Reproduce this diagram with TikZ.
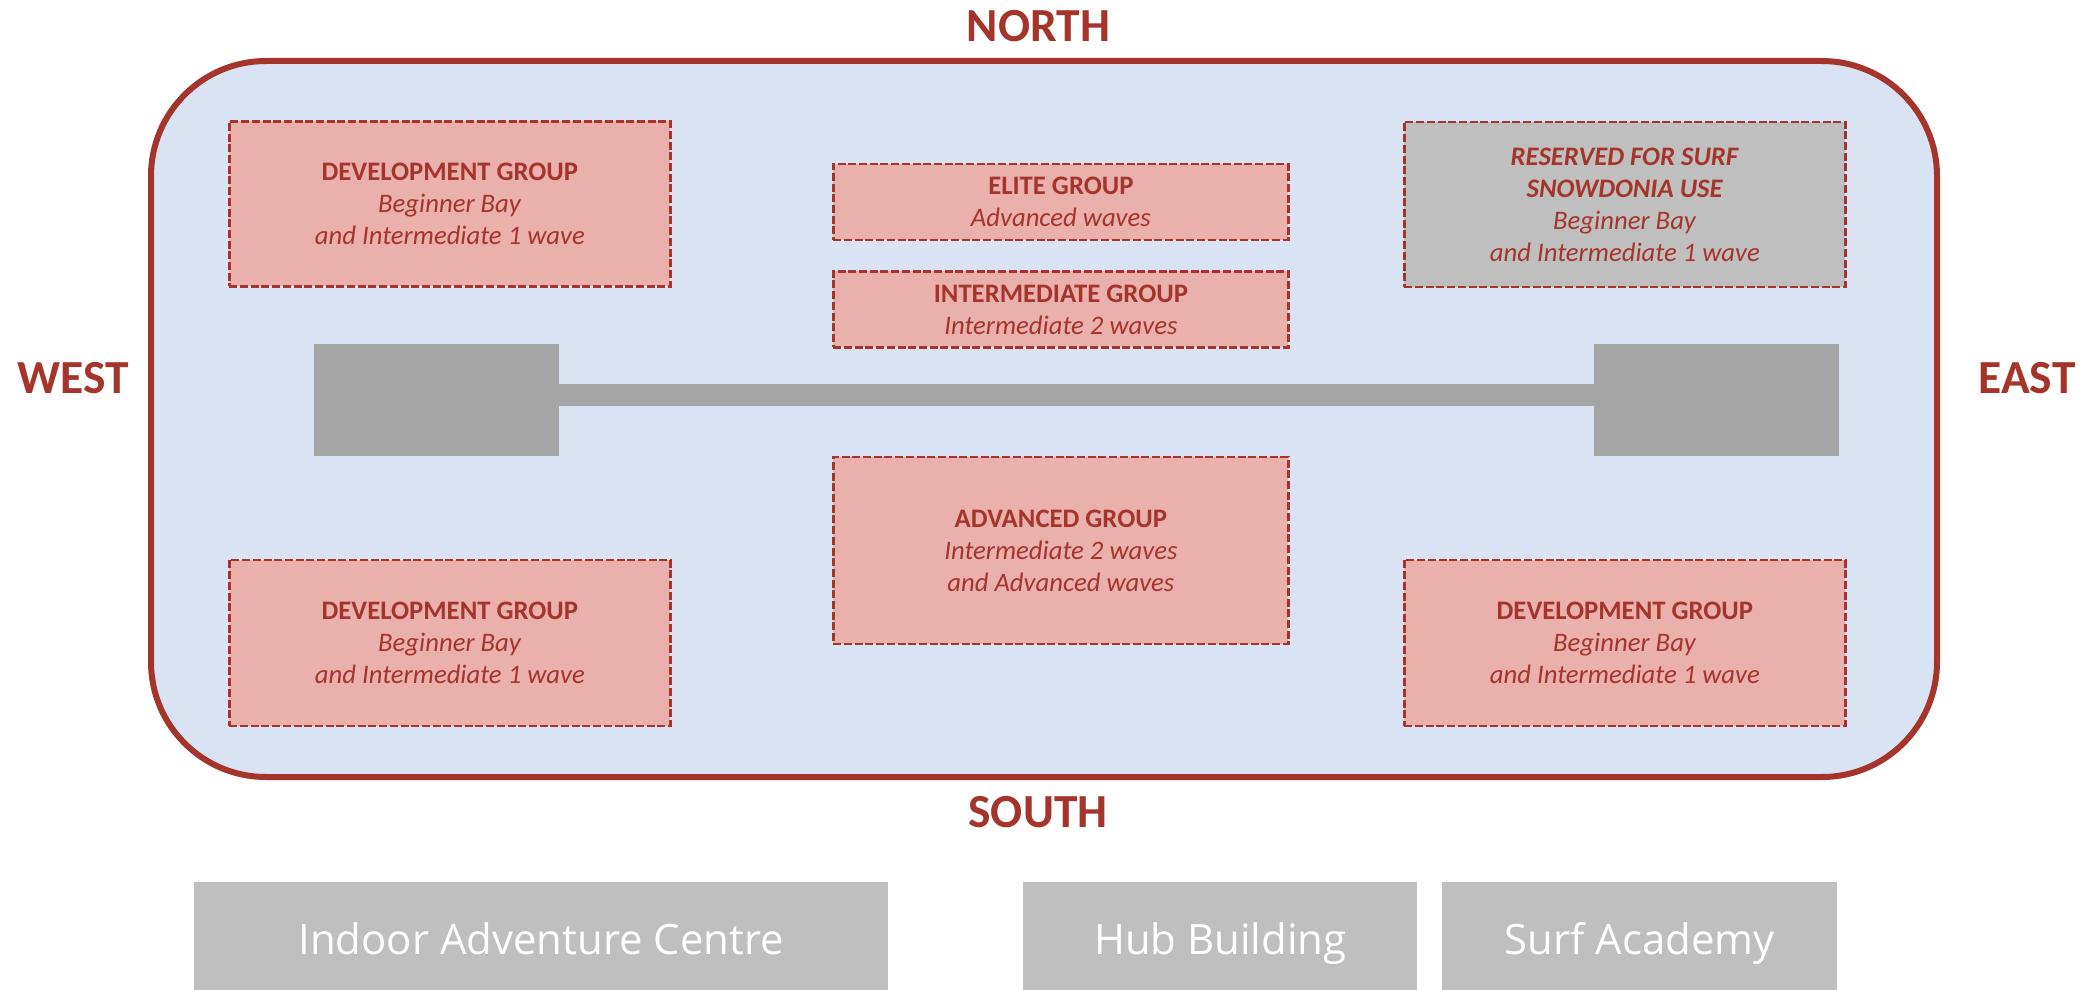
\documentclass[tikz,border=0pt]{standalone}
\usepackage{fontspec}
\setmainfont{Carlito}
\newfontfamily\bldgfont{Open Sans}
\definecolor{rustred}{HTML}{A5352B}
\definecolor{zonefill}{HTML}{EAB0AB}
\definecolor{sitefill}{HTML}{DAE3F3}
\definecolor{softgrey}{HTML}{BFBFBF}
\definecolor{darkgrey}{HTML}{A5A5A5}
\tikzset{
  zone/.style={draw=rustred,fill=zonefill,line width=2.7pt,dash pattern=on 8pt off 2.7pt,
    rectangle,inner sep=0pt,align=center,text=rustred,font=\fontsize{26.7}{32}\selectfont,
    execute at begin node=\rule{0pt}{21pt}},
  reserved/.style={zone,fill=softgrey},
  pier/.style={fill=darkgrey,rectangle,inner sep=0pt},
  compass/.style={text=rustred,inner sep=0pt,font=\fontsize{47.5}{50}\selectfont\bfseries},
  building/.style={fill=softgrey,rectangle,inner sep=0pt,text=white,text height=36pt,text depth=0pt,font=\fontsize{41.9}{46}\selectfont\bldgfont}
}
\newcommand{\hd}[1]{\textbf{#1}}
\newcommand{\sbt}[1]{\textit{#1}}
\begin{document}
\begin{tikzpicture}[x=1pt,y=-1pt]
\useasboundingbox (0,0) rectangle (2090,990);
\node[draw=rustred,fill=sitefill,line width=6pt,rectangle,rounded corners=115pt,
  minimum width=1786pt,minimum height=716pt,anchor=north west,outer sep=0pt,inner sep=0pt] (site) at (151,61) {};
\node[compass] (north) at (1038.5,26.5) {NORTH};
\node[compass] (south) at (1038,812) {SOUTH};
\node[compass] (west) at (73.5,378.5) {WEST};
\node[compass] (east) at (2027,378.5) {EAST};
\node[pier,minimum width=245.5pt,minimum height=112pt,anchor=north west] (pierW) at (313.5,344) {};
\node[pier,minimum width=245pt,minimum height=112pt,anchor=north west] (pierE) at (1594,344) {};
\draw[darkgrey,line width=21.5pt] ([yshift=5pt]pierW.east) -- ([yshift=5pt]pierE.west);
\node[zone,minimum width=441pt,minimum height=165pt,anchor=north west] (devNW) at (228,120)
  {\hd{DEVELOPMENT GROUP}\\\sbt{Beginner Bay}\\\sbt{and Intermediate 1 wave}};
\node[zone,minimum width=455pt,minimum height=76pt,anchor=north west] (elite) at (832,162.5)
  {\hd{ELITE GROUP}\\\sbt{Advanced waves}};
\node[zone,minimum width=455pt,minimum height=76pt,anchor=north west] (inter) at (832,270)
  {\hd{INTERMEDIATE GROUP}\\\sbt{Intermediate 2 waves}};
\node[reserved,minimum width=441pt,minimum height=165pt,anchor=north west] (resNE) at (1403,120.5)
  {\textbf{\textit{RESERVED FOR SURF}}\\\textbf{\textit{SNOWDONIA USE}}\\\sbt{Beginner Bay}\\\sbt{and Intermediate 1 wave}};
\node[zone,minimum width=455pt,minimum height=187pt,anchor=north west] (adv) at (832,455.5)
  {\hd{ADVANCED GROUP}\\\sbt{Intermediate 2 waves}\\\sbt{and Advanced waves}};
\node[zone,minimum width=441pt,minimum height=166pt,anchor=north west] (devSW) at (228,558.5)
  {\hd{DEVELOPMENT GROUP}\\\sbt{Beginner Bay}\\\sbt{and Intermediate 1 wave}};
\node[zone,minimum width=441pt,minimum height=166pt,anchor=north west] (devSE) at (1403,558.5)
  {\hd{DEVELOPMENT GROUP}\\\sbt{Beginner Bay}\\\sbt{and Intermediate 1 wave}};
\node[building,minimum width=694pt,minimum height=108pt,anchor=north west] (iac) at (194,882) {Indoor Adventure Centre};
\node[building,minimum width=394pt,minimum height=108pt,anchor=north west] (hub) at (1023,882) {Hub Building};
\node[building,minimum width=395pt,minimum height=108pt,anchor=north west] (academy) at (1442,882) {Surf Academy};
\end{tikzpicture}
\end{document}
